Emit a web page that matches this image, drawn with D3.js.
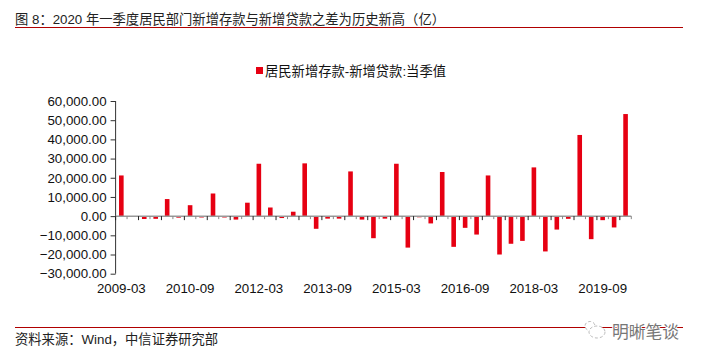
<!DOCTYPE html>
<html><head><meta charset="utf-8"><style>html,body{margin:0;padding:0;background:#fff}svg{display:block}text{font-family:"Liberation Sans","Noto Sans CJK SC",sans-serif}</style>
<script src="https://cdn.jsdelivr.net/npm/d3@7"></script></head><body><svg id="c" width="701" height="360"></svg>
<script>
const titleText="图 8：2020 年一季度居民部门新增存款与新增贷款之差为历史新高（亿）";
const sourceText="资料来源：Wind，中信证券研究部";
const legendText="居民新增存款-新增贷款:当季值";
const watermark="明晰笔谈";
const years=[2009,2010,2011,2012,2013,2014,2015,2016,2017,2018,2019];
const quarterMonths=["03","06","09","12"];
const values=[21200,0,-1500,-1400,8900,-800,5700,-700,11800,-700,-1800,7000,27300,4500,-1000,2300,27500,-6600,-1300,-1300,23300,-1800,-11500,-1300,27300,-16400,-600,-3800,23000,-16000,-6100,-9600,21200,-20000,-14400,-12900,25400,-18400,-7000,-1400,42300,-12000,-2100,-5900,53200];
const yTicks=[-30000,-20000,-10000,0,10000,20000,30000,40000,50000,60000];
const xLabels=["2009-03","2010-09","2012-03","2013-09","2015-03","2016-09","2018-03","2019-09"];
const categories=years.flatMap(y=>quarterMonths.map(m=>y+"-"+m)).concat(["2020-03"]);
const red="#e60012",dark="#b00000",ink="#111";
const svg=d3.select("#c");
const x=d3.scaleBand().domain(categories).range([115.6,631.3]);
const y=d3.scaleLinear().domain([-30000,60000]).range([273.7,101]);
const rule=(yy)=>svg.append("line").attr("x1",15).attr("x2",683).attr("y1",yy).attr("y2",yy).attr("stroke",dark).attr("stroke-width",1);
svg.append("text").attr("x",15).attr("y",24).attr("font-size",13.3).attr("fill","#222").text(titleText);
rule(27.5);rule(327.5);
svg.append("text").attr("x",15).attr("y",344).attr("font-size",13.3).attr("fill","#222").text(sourceText);
svg.append("rect").attr("x",256).attr("y",67).attr("width",7).attr("height",7).attr("fill",red);
svg.append("text").attr("x",265).attr("y",75.5).attr("font-size",13.3).attr("fill",ink).text(legendText);
svg.append("g").selectAll("rect").data(values).join("rect")
 .attr("x",(d,i)=>x(categories[i])+x.bandwidth()/2-2.3).attr("width",4.6)
 .attr("y",d=>y(Math.max(d,0))).attr("height",d=>Math.abs(y(d)-y(0))).attr("fill",red);
const ya=svg.append("g").attr("transform","translate(115.6,0)").call(d3.axisLeft(y).tickValues(yTicks).tickFormat(d3.format(",.2f")).tickSize(5).tickPadding(4));
ya.selectAll("text").attr("font-size",13.3).attr("fill",ink).style("font-family",'"Liberation Sans"');
ya.selectAll("line,path").attr("stroke","#333");
ya.select("path").attr("d","M-0.0,101V273.7");
const xa=svg.append("g").attr("transform",`translate(0,${y(0)})`);
xa.append("line").attr("x1",115.6).attr("x2",631.3).attr("stroke","#999").attr("stroke-width",1.5);
xa.selectAll("line.t").data(categories.concat(["end"])).join("line").attr("class","t")
 .attr("x1",(d,i)=>115.6+i*x.step()).attr("x2",(d,i)=>115.6+i*x.step())
 .attr("y1",0).attr("y2",(d,i)=>i%2?3:4).attr("stroke",(d,i)=>i%2?"#888":"#222");
svg.append("g").selectAll("text").data(xLabels).join("text").attr("x",d=>x(d)+x.bandwidth()/2).attr("y",293).attr("text-anchor","middle").attr("font-size",13.3).attr("fill",ink).text(d=>d);
svg.append("text").attr("x",612).attr("y",337.5).attr("font-size",16.8).attr("fill","#777").attr("stroke","#fff").attr("stroke-width",2).attr("paint-order","stroke").text(watermark);
const bird=svg.append("g").attr("stroke","#aaa").attr("fill","#fff").attr("stroke-width",.8);
bird.append("ellipse").attr("cx",590).attr("cy",326).attr("rx",5).attr("ry",4.5).attr("stroke-dasharray","3 2");
bird.append("ellipse").attr("cx",597).attr("cy",332).attr("rx",8).attr("ry",6).attr("stroke-dasharray","3 2");
</script></body></html>
